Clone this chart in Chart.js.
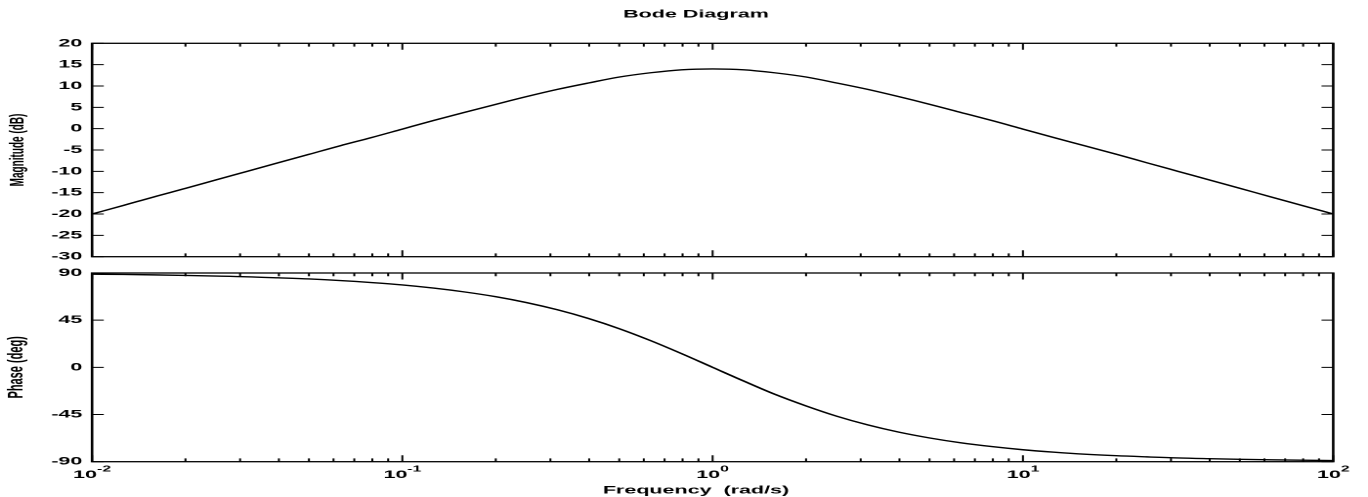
<!DOCTYPE html>
<html>
<head>
<meta charset="utf-8">
<title>Bode Diagram</title>
<script src="https://cdn.jsdelivr.net/npm/chart.js@4.4.1/dist/chart.umd.min.js"></script>
<style>
  html, body { margin: 0; padding: 0; background: #fff; }
  #wrap { position: relative; width: 1368px; height: 497px; overflow: hidden; }
  #wrap canvas { position: absolute; left: 0; }
</style>
</head>
<body>
<div id="wrap">
  <canvas id="magCanvas" width="700" height="265" style="top:0;width:1368px;height:265px"></canvas>
  <canvas id="phaseCanvas" width="700" height="232" style="top:265px;width:1368px;height:232px"></canvas>
</div>
<script>
/*=============== DATA ===============*/
const frequency = [
  0.01, 0.0126, 0.0158, 0.02, 0.0251, 0.0316, 0.0398, 0.0501, 0.0631, 0.0794,
  0.1, 0.126, 0.158, 0.2, 0.251, 0.316, 0.398, 0.501, 0.631, 0.794,
  1, 1.26, 1.58, 2, 2.51, 3.16, 3.98, 5.01, 6.31, 7.94,
  10, 12.6, 15.8, 20, 25.1, 31.6, 39.8, 50.1, 63.1, 79.4, 100
];
const magnitudeDb = [
  -20.0, -18.0, -16.0, -14.0, -12.0, -10.0, -8.0, -6.0, -4.0, -2.1,
  -0.1, 1.9, 3.8, 5.7, 7.5, 9.2, 10.7, 12.1, 13.1, 13.8,
  14.0, 13.8, 13.1, 12.1, 10.7, 9.2, 7.5, 5.7, 3.8, 1.9,
  -0.1, -2.1, -4.0, -6.0, -8.0, -10.0, -12.0, -14.0, -16.0, -18.0, -20.0
];
const phaseDeg = [
  88.9, 88.6, 88.2, 87.7, 87.1, 86.4, 85.4, 84.3, 82.8, 80.9,
  78.6, 75.6, 72.0, 67.4, 61.8, 54.9, 46.6, 36.8, 25.5, 13.1,
  0, -13.1, -25.5, -36.8, -46.6, -54.9, -61.8, -67.4, -72.0, -75.6,
  -78.6, -80.9, -82.8, -84.3, -85.4, -86.4, -87.1, -87.7, -88.2, -88.6, -88.9
];
const magTicks   = [20, 15, 10, 5, 0, -5, -10, -15, -20, -25, -30];
const phaseTicks = [90, 45, 0, -45, -90];
const freqDecades   = [0.01, 0.1, 1, 10, 100];
const freqExponents = ['-2', '-1', '0', '1', '2'];

/*=============== LOOK ===============*/
// the picture is stretched sideways, so the canvases are drawn narrow and widened by css
const FONT = "'Liberation Sans', Arial, Helvetica, sans-serif";
const STRETCH = 1368 / 700;

/*=============== PLUGINS ===============*/
// frame + inward ticks on all four sides
const frameTicks = {
  id: 'frameTicks',
  afterDraw(chart) {
    const {ctx, chartArea: a, scales: {x, y}} = chart;
    ctx.save();
    ctx.strokeStyle = '#000';
    ctx.lineWidth = 1;
    ctx.beginPath();
    y.ticks.forEach(t => {
      const py = y.getPixelForValue(t.value);
      ctx.moveTo(a.left, py);  ctx.lineTo(a.left + 6, py);
      ctx.moveTo(a.right, py); ctx.lineTo(a.right - 6, py);
    });
    freqDecades.forEach(d => {
      for (let m = 1; m <= 9; m++) {
        const v = d * m;
        if (v > x.max * 1.0001) break;
        const px = x.getPixelForValue(v);
        const len = m === 1 ? 6.5 : 3.3;
        ctx.moveTo(px, a.top);    ctx.lineTo(px, a.top + len);
        ctx.moveTo(px, a.bottom); ctx.lineTo(px, a.bottom - len);
      }
    });
    ctx.stroke();
    ctx.lineWidth = 1.3;
    ctx.strokeRect(a.left, a.top, a.right - a.left, a.bottom - a.top);
    ctx.restore();
  }
};

const bodeTitle = {
  id: 'bodeTitle',
  afterDraw(chart) {
    const ctx = chart.ctx;
    ctx.save();
    ctx.fillStyle = '#000';
    ctx.font = `bold 11px ${FONT}`;
    ctx.textAlign = 'center';
    ctx.textBaseline = 'alphabetic';
    ctx.fillText('Bode Diagram', 696 / STRETCH, 17.3);
    ctx.restore();
  }
};

// 10^n labels under the phase plot + axis name
const freqLabels = {
  id: 'freqLabels',
  afterDraw(chart) {
    const {ctx, chartArea: a, scales: {x}} = chart;
    const big = `bold 11px ${FONT}`, small = `bold 8px ${FONT}`;
    ctx.save();
    ctx.fillStyle = '#000';
    ctx.textBaseline = 'alphabetic';
    ctx.textAlign = 'left';
    freqDecades.forEach((d, i) => {
      const px = x.getPixelForValue(d);
      ctx.font = big;   const wBase = ctx.measureText('10').width;
      ctx.font = small; const wExp  = ctx.measureText(freqExponents[i]).width;
      const left = px - (wBase + wExp) / 2;
      ctx.font = big;   ctx.fillText('10', left, a.bottom + 16.3);
      ctx.font = small; ctx.fillText(freqExponents[i], left + wBase, a.bottom + 9.8);
    });
    ctx.font = big;
    ctx.textAlign = 'center';
    ctx.fillText('Frequency  (rad/s)', 696 / STRETCH, a.bottom + 31.8);
    ctx.restore();
  }
};

/*=============== CHARTS ===============*/
const makeOptions = (yTicks, yTitle, titleSize, titlePad, padding) => ({
  responsive: false,
  devicePixelRatio: 2,
  animation: false,
  events: [],
  layout: { padding },
  plugins: { legend: { display: false }, tooltip: { enabled: false }, title: { display: false } },
  scales: {
    x: { type: 'logarithmic', min: 0.01, max: 100, display: false },
    y: {
      min: yTicks[yTicks.length - 1],
      max: yTicks[0],
      afterBuildTicks: s => { s.ticks = yTicks.map(v => ({ value: v })); },
      // fixed width, and no extra room for the end labels: the layout padding handles that
      afterFit: s => { s.width = 47.1; s.paddingTop = 0; s.paddingBottom = 0; },
      grid: { display: false, drawTicks: false },
      border: { display: false },
      ticks: {
        autoSkip: false, padding: 5, color: '#000',
        font: { family: FONT, size: 11, weight: 'bold' },
        callback: v => String(v)
      },
      title: {
        display: true, text: yTitle, color: '#000',
        font: { family: FONT, size: titleSize, weight: 'bold' },
        padding: { top: titlePad, bottom: 0 }
      }
    }
  }
});

const lineSet = values => ({
  data: frequency.map((f, i) => ({ x: f, y: values[i] })),
  borderColor: '#000',
  borderWidth: 1.4,
  pointRadius: 0,
  fill: false,
  cubicInterpolationMode: 'monotone'
});

new Chart(document.getElementById('magCanvas'), {
  type: 'line',
  data: { datasets: [lineSet(magnitudeDb)] },
  options: makeOptions(magTicks, 'Magnitude (dB)', 10, 3, { left: 0, right: 17.8, top: 43.3, bottom: 8.3 }),
  plugins: [frameTicks, bodeTitle]
});

new Chart(document.getElementById('phaseCanvas'), {
  type: 'line',
  data: { datasets: [lineSet(phaseDeg)] },
  options: makeOptions(phaseTicks, 'Phase (deg)', 11, 2, { left: 0, right: 17.8, top: 8, bottom: 35.3 }),
  plugins: [frameTicks, freqLabels]
});
</script>
</body>
</html>
